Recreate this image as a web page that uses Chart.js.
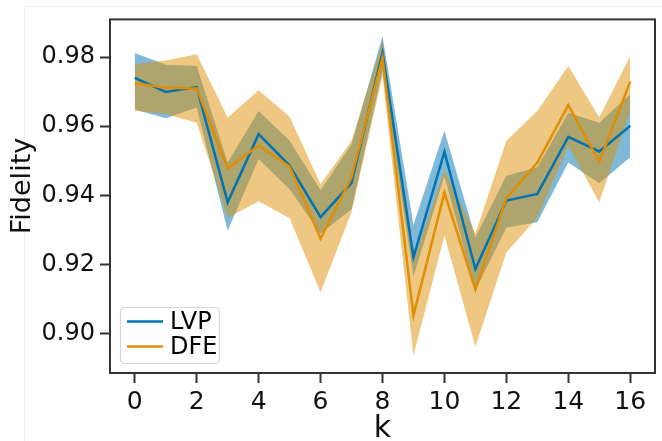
<!DOCTYPE html>
<html>
<head>
<meta charset="utf-8">
<script src="https://cdn.jsdelivr.net/npm/chart.js@4.4.1/dist/chart.umd.min.js"></script>
<style>
    html, body { margin: 0; padding: 0; background: #fff; }
    #wrap { width: 662px; height: 441px; }
</style>
</head>
<body>
<div id="wrap"><canvas id="chartFidelity" width="662" height="441"></canvas></div>
<script>
// ─── Data ──────────────────────────────────────────────────────────────────────
const kValues = [0, 1, 2, 3, 4, 5, 6, 7, 8, 9, 10, 11, 12, 13, 14, 15, 16];

const lvpMean = [0.9740, 0.9699, 0.9713, 0.9380, 0.9577, 0.9486, 0.9337, 0.9436, 0.9812, 0.9221, 0.9526, 0.9187, 0.9385, 0.9404, 0.9569, 0.9527, 0.9601];
const lvpLow  = [0.9648, 0.9623, 0.9654, 0.9298, 0.9505, 0.9418, 0.9290, 0.9360, 0.9760, 0.9165, 0.9455, 0.9125, 0.9307, 0.9322, 0.9495, 0.9435, 0.9510];
const lvpHigh = [0.9812, 0.9778, 0.9774, 0.9495, 0.9644, 0.9558, 0.9415, 0.9548, 0.9860, 0.9315, 0.9587, 0.9278, 0.9457, 0.9481, 0.9639, 0.9610, 0.9692];

const dfeMean = [0.9724, 0.9711, 0.9709, 0.9478, 0.9544, 0.9483, 0.9275, 0.9452, 0.9797, 0.9053, 0.9408, 0.9128, 0.9392, 0.9495, 0.9661, 0.9497, 0.9729];
const dfeLow  = [0.9645, 0.9635, 0.9610, 0.9335, 0.9383, 0.9334, 0.9120, 0.9352, 0.9745, 0.8937, 0.9284, 0.8962, 0.9235, 0.9336, 0.9543, 0.9380, 0.9644];
const dfeHigh = [0.9780, 0.9790, 0.9808, 0.9625, 0.9704, 0.9627, 0.9432, 0.9558, 0.9846, 0.9210, 0.9474, 0.9290, 0.9558, 0.9644, 0.9774, 0.9625, 0.9803];

const xTicks = [0, 2, 4, 6, 8, 10, 12, 14, 16];
const yTicks = [0.90, 0.92, 0.94, 0.96, 0.98];

// ─── Style ─────────────────────────────────────────────────────────────────────
const FONT = '"DejaVu Sans", Verdana, sans-serif';
const BLUE = '#0173b2';
const ORANGE = '#de8f05';
const INK = '#333333';

const pts = ys => kValues.map((k, i) => ({ x: k, y: ys[i] }));

// frame on all four sides, like matplotlib spines, plus the y title
const framePlugin = {
    id: 'frame',
    beforeDraw(chart) {
        const { ctx, width, height } = chart;
        ctx.save();
        ctx.strokeStyle = '#ececec';
        ctx.lineWidth = 1;
        ctx.beginPath();
        ctx.moveTo(24.5, height);
        ctx.lineTo(24.5, 6.5);
        ctx.lineTo(width, 6.5);
        ctx.stroke();
        ctx.restore();
    },
    afterDatasetsDraw(chart) {
        const { ctx, chartArea: a } = chart;
        ctx.save();
        ctx.strokeStyle = INK;
        ctx.lineWidth = 2;
        ctx.strokeRect(a.left, a.top, a.right - a.left, a.bottom - a.top);

        // y axis title, placed a little above the axis centre as in the reference
        ctx.translate(23, 186);
        ctx.rotate(-Math.PI / 2);
        ctx.font = `27px ${FONT}`;
        ctx.fillStyle = '#111';
        ctx.textAlign = 'center';
        ctx.textBaseline = 'middle';
        ctx.fillText('Fidelity', 0, 0);
        ctx.restore();
    },
};

// legend box in the lower left of the plot
const legendPlugin = {
    id: 'innerLegend',
    afterDraw(chart) {
        const { ctx, chartArea: a } = chart;
        const items = chart.data.datasets.filter(d => d.showInLegend);
        const x = a.left + 10, y = a.bottom - 66, w = 99, h = 56;
        ctx.save();
        ctx.fillStyle = 'rgba(255,255,255,0.8)';
        ctx.strokeStyle = '#d6d6d6';
        ctx.lineWidth = 1.2;
        ctx.beginPath();
        ctx.roundRect(x + 0.5, y + 0.5, w, h, 4);
        ctx.fill();
        ctx.stroke();
        ctx.font = `24px ${FONT}`;
        ctx.textBaseline = 'middle';
        items.forEach((d, i) => {
            const ly = y + 14.5 + i * 25;
            ctx.strokeStyle = d.borderColor;
            ctx.lineWidth = 2.5;
            ctx.beginPath();
            ctx.moveTo(x + 7, ly);
            ctx.lineTo(x + 43, ly);
            ctx.stroke();
            ctx.fillStyle = '#000';
            ctx.fillText(d.label, x + 50, ly + 1);
        });
        ctx.restore();
    },
};

const band = (label, data, color, fillTo, order) => ({
    label,
    data,
    borderWidth: 0,
    pointRadius: 0,
    backgroundColor: color,
    fill: fillTo === null ? false : { target: fillTo },
    order,
});

new Chart(document.getElementById('chartFidelity'), {
    type: 'line',
    data: {
        datasets: [
            band('lvpLow', pts(lvpLow), 'transparent', null, 9),            // 0
            band('lvpHigh', pts(lvpHigh), 'rgba(1,115,178,0.5)', 0, 4),     // 1
            band('dfeLow', pts(dfeLow), 'transparent', null, 9),            // 2
            band('dfeHigh', pts(dfeHigh), 'rgba(222,143,5,0.5)', 2, 3),     // 3
            {
                label: 'LVP',
                data: pts(lvpMean),
                borderColor: BLUE,
                borderWidth: 2.5,
                pointRadius: 0,
                fill: false,
                tension: 0,
                order: 2,
                showInLegend: true,
            },
            {
                label: 'DFE',
                data: pts(dfeMean),
                borderColor: ORANGE,
                borderWidth: 2.5,
                pointRadius: 0,
                fill: false,
                tension: 0,
                order: 1,
                showInLegend: true,
            },
        ],
    },
    options: {
        responsive: false,
        animation: false,
        devicePixelRatio: 1,
        layout: { padding: { left: 0, top: 18, right: 7, bottom: 0 } },
        plugins: {
            legend: { display: false },
            tooltip: { enabled: false },
        },
        scales: {
            x: {
                type: 'linear',
                min: -0.8,
                max: 16.8,
                afterBuildTicks: s => { s.ticks = xTicks.map(v => ({ value: v })); },
                afterFit: s => { s.height = 68; },
                grid: { drawOnChartArea: false, tickLength: 10, tickColor: INK, tickWidth: 2 },
                border: { display: false },
                ticks: {
                    color: '#111',
                    font: { family: FONT, size: 25 },
                    padding: 4,
                    maxRotation: 0,
                    callback: v => String(v),
                },
                title: {
                    display: true,
                    text: 'k',
                    color: '#111',
                    font: { family: FONT, size: 30, lineHeight: 1 },
                    padding: { top: 0, bottom: -3 },
                },
            },
            y: {
                min: 0.88863,
                max: 0.99088,
                afterBuildTicks: s => { s.ticks = yTicks.map(v => ({ value: v })); },
                afterFit: s => { s.width = 110; },
                grid: { drawOnChartArea: false, tickLength: 10, tickColor: INK, tickWidth: 2 },
                border: { display: false },
                ticks: {
                    color: '#111',
                    font: { family: FONT, size: 24 },
                    padding: 5,
                    callback: v => Number(v).toFixed(2),
                },
                title: { display: false },
            },
        },
    },
    plugins: [framePlugin, legendPlugin],
});
</script>
</body>
</html>
